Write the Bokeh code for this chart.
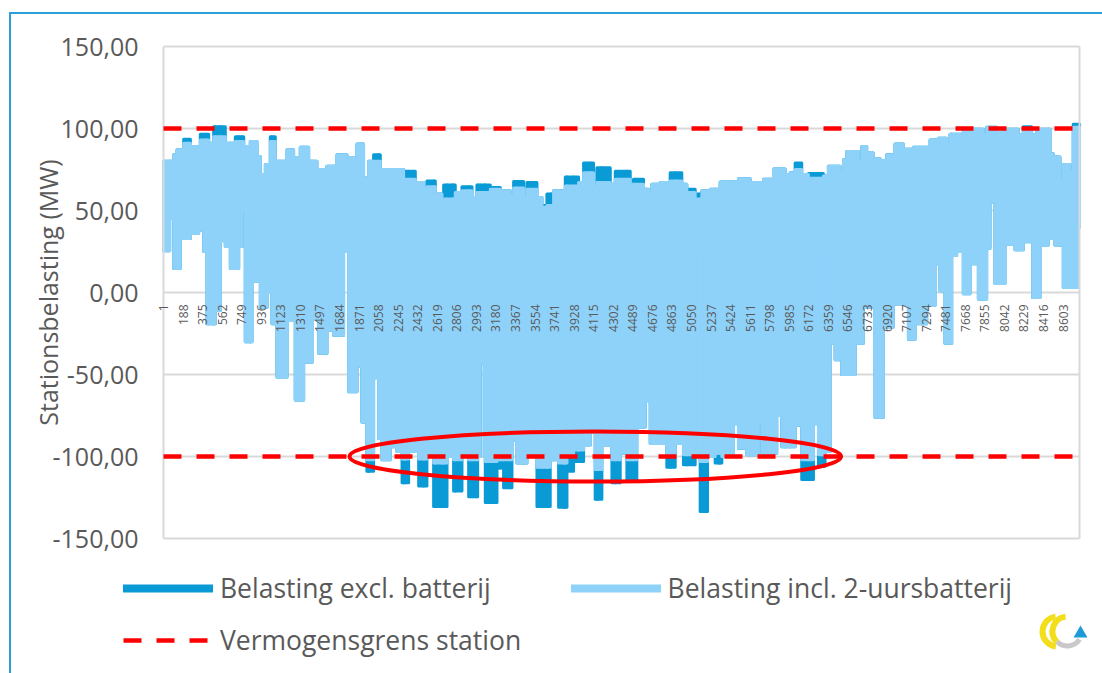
import numpy as np
from bokeh.plotting import figure
from bokeh.models import Range1d, Legend, LegendItem
from bokeh.core.properties import value
from bokeh.embed import file_html
from bokeh.resources import INLINE

FONT = "Open Sans"
GREY = "#595959"
DARK = "#0A9BD6"
LIGHT = "#8ED2FA"
GRID = "#d9d9d9"

# ---------------- data ----------------
n_hours = 8760
hour_ticks = [1, 188, 375, 562, 749, 936, 1123, 1310, 1497, 1684, 1871, 2058, 2245,
              2432, 2619, 2806, 2993, 3180, 3367, 3554, 3741, 3928, 4115, 4302, 4489,
              4676, 4863, 5050, 5237, 5424, 5611, 5798, 5985, 6172, 6359, 6546, 6733,
              6920, 7107, 7294, 7481, 7668, 7855, 8042, 8229, 8416, 8603]
y_ticks = [-150, -100, -50, 0, 50, 100, 150]
y_tick_labels = ["-150,00", "-100,00", "-50,00", "0,00", "50,00", "100,00", "150,00"]

# upper envelope (start hour of each plateau, MW)
top_start = [1, 98, 130, 194, 258, 353, 433, 481, 592, 688, 768, 831, 895, 927, 975,
             1022, 1070, 1182, 1245, 1309, 1389, 1468, 1564, 1660, 1755, 1851, 1914,
             1962, 2010, 2074, 2169, 2297, 2313, 2409, 2489, 2520, 2600, 2664, 2680,
             2791, 2855, 2951, 2998, 3126, 3221, 3317, 3349, 3444, 3476, 3572, 3620,
             3667, 3731, 3827, 3843, 3970, 4018, 4113, 4145, 4273, 4321, 4464, 4495,
             4591, 4639, 4671, 4750, 4846, 4957, 5005, 5085, 5149, 5228, 5308, 5324,
             5499, 5611, 5738, 5834, 5945, 5993, 6041, 6104, 6168, 6311, 6359, 6471,
             6503, 6535, 6646, 6678, 6725, 6789, 6853, 6916, 6980, 6996, 7076, 7155,
             7171, 7331, 7410, 7490, 7522, 7649, 7840, 7872, 7968, 8032, 8175, 8223,
             8302, 8350, 8478, 8509, 8573, 8605, 8669, 8700]
top_incl = [80, 84, 87, 91, 89, 93, 91, 95, 91, 92, 89, 92, 83, 72, 78,
            92, 80, 87, 82, 88.5, 80, 75, 77, 84, 82, 90.5, 70,
            80, 80, 75, 75, 68, 69, 67, 63, 64.5, 60, 48, 57,
            61, 62, 58, 61, 63, 62, 59, 63.7, 57.5, 63, 58, 52,
            53, 62, 48, 65, 67, 73, 64, 67, 66, 69, 66, 66,
            63, 60, 66, 67, 68, 66, 61, 57, 62, 63, 59, 67.4,
            69.4, 67, 69, 75.3, 72, 73, 75, 72, 69.6, 71, 77, 74,
            81, 86, 80, 89, 85, 81.6, 80.5, 84, 70, 90.5, 87.4, 84,
            88.5, 93, 94, 91, 96.5, 99.5, 96.5, 100.7, 97.6, 99.5, 96, 100,
            96, 99.5, 84.6, 82.6, 68.5, 78, 74, 100.7]
top_excl = [80, 84, 87, 93.5, 89, 96.5, 91, 101, 91, 95, 89, 92, 83, 72, 78,
            95, 80, 87, 82, 88.5, 80, 75, 77, 84, 82, 90.5, 70,
            80, 84, 75, 75, 68, 74, 67, 63, 68, 60, 48, 65.5,
            61, 64.5, 58, 65.5, 64, 62, 59, 67.7, 57.5, 67, 58, 53,
            60, 62, 48, 70.4, 67, 79, 64, 76, 66, 74, 66, 69,
            63, 60, 66, 67, 73, 66, 63, 60, 62, 63, 59, 67.4,
            69.4, 67, 69, 75.3, 72, 73, 79, 72, 72.6, 71, 77, 74,
            81, 86, 80, 89, 85, 81.6, 80.5, 84, 70, 90.5, 87.4, 84,
            88.5, 93, 94, 91, 96.5, 99.5, 96.5, 100.7, 97.6, 99.5, 96, 101,
            96, 99.5, 84.6, 82.6, 68.5, 78, 74, 102.6]

# lower envelope (start hour of each plateau, MW)
bot_start = [1, 60, 98, 162, 258, 337, 385, 417, 497, 545, 592, 640, 720, 752, 783,
             847, 927, 991, 1038, 1086, 1182, 1261, 1341, 1421, 1484, 1564, 1628,
             1723, 1771, 1851, 1898, 1946, 2010, 2058, 2090, 2169, 2218, 2234, 2282,
             2345, 2441, 2520, 2584, 2712, 2763, 2775, 2855, 2919, 3005, 3030, 3068,
             3078, 3190, 3253, 3333, 3381, 3476, 3572, 3699, 3715, 3779, 3859, 3922,
             4018, 4082, 4129, 4193, 4289, 4368, 4432, 4527, 4607, 4655, 4814, 4894,
             4973, 5085, 5133, 5203, 5276, 5340, 5451, 5499, 5579, 5690, 5722, 5865,
             5913, 6041, 6104, 6216, 6264, 6327, 6375, 6423, 6487, 6614, 6693, 6709,
             6805, 6885, 6980, 7124, 7187, 7299, 7378, 7426, 7474, 7538, 7585, 7649,
             7713, 7793, 7872, 7904, 7952, 8047, 8143, 8223, 8312, 8382, 8462, 8525,
             8605, 8748]
bot_incl = [25.5, 45.5, 14.6, 33, 36, 38, 25, -19, -11, 31.5, 28, 14.6, 28, 50, -30,
            7, -9, 0, -19, -51.5, -17, -65.5, -42.5, -16, -37, -23, -26,
            25, -60.5, -45, -79, -102, -52, -89, -102, -94, -33, -97, -101.5,
            -97, -101.5, -99, -104, -100, -83, -102, -100, -102, -100, -43, -100,
            -103, -102, -102, -90, -104, -98, -106.6, -77, -102, -104, -100, -96,
            -93, -85, -108, -93, -102, -98, -102, -82, -66, -92, -100, -92,
            -99, -100, -103, -100, -98, -100, -80, -95, -99, -80, -98, -75,
            -94, -81, -102, -80, -99, -97, -31, -41, -50, -31, 27, -9,
            -76, -21, -7, -28.5, -19, -8, 17.6, 1, -31, 22.5, 25, -0.7,
            17.6, -4, 27, 55, 5.5, 29.6, 26, 31, -3, 29, 33, 29,
            3, 40]
bot_excl = [25.5, 45.5, 14.6, 33, 36, 38, 25, -19, -11, 31.5, 28, 14.6, 28, 50, -30,
            7, -9, 0, -19, -51.5, -17, -65.5, -42.5, -16, -37, -23, -26,
            25, -60.5, -45, -79, -109, -52, -89, -102, -94, -33, -97, -116,
            -97, -118, -99, -130.5, -100, -83, -121, -100, -124.5, -100, -43, -100,
            -128, -107, -119, -90, -104, -98, -130.5, -77, -102, -131, -109, -103,
            -93, -85, -126, -93, -116, -98, -114, -82, -66, -92, -106.5, -92,
            -105, -100, -133.6, -100, -104, -100, -80, -95, -99, -80, -98, -75,
            -94, -81, -114, -80, -106, -97, -31, -41, -50, -31, 27, -9,
            -76, -21, -7, -28.5, -19, -8, 17.6, 1, -31, 22.5, 25, -0.7,
            17.6, -4, 27, 55, 5.5, 29.6, 26, 31, -3, 29, 33, 29,
            3, 40]

limit_values = [100, -100]          # station capacity limit (MW)
highlight_hours = [4130]            # centre of highlighted period
highlight_mw = [-100]
highlight_width_hours = [4700]
highlight_height_mw = [30.5]

# ---------------- layout (pixels) ----------------
W, H = 1100, 672
PLOT_L, PLOT_R, PLOT_T, PLOT_B = 163, 1079, 46, 538
Y_MIN, Y_MAX = -150, 150
px_per_h = (PLOT_R - PLOT_L) / (n_hours - 1)
px_per_mw = (PLOT_B - PLOT_T) / (Y_MAX - Y_MIN)
x_range = Range1d(1 - PLOT_L / px_per_h, n_hours + (W - PLOT_R) / px_per_h)
y_range = Range1d(Y_MIN - (H - PLOT_B) / px_per_mw, Y_MAX + PLOT_T / px_per_mw)


def px_x(px):
    return 1 + (px - PLOT_L) / px_per_h


def px_y(py):
    return Y_MAX - (py - PLOT_T) / px_per_mw


# ---------------- build plateaus ----------------
edges = np.unique(np.concatenate([top_start, bot_start, [n_hours]]))
left = edges[:-1]
right = edges[1:]
ti = np.searchsorted(top_start, left, side="right") - 1
bi = np.searchsorted(bot_start, left, side="right") - 1
t_in = np.array(top_incl)[ti]
t_ex = np.array(top_excl)[ti]
b_in = np.array(bot_incl)[bi]
b_ex = np.array(bot_excl)[bi]

# ---------------- figure ----------------
p = figure(width=W, height=H, x_range=x_range, y_range=y_range,
           output_backend="svg", toolbar_location=None,
           min_border=0, min_border_left=0, min_border_right=0,
           min_border_top=0, min_border_bottom=0)
p.axis.visible = False
p.grid.visible = False
p.outline_line_color = None
p.background_fill_color = "white"
p.border_fill_color = "white"

# gridlines (value axis)
p.segment(x0=[1] * len(y_ticks), x1=[n_hours] * len(y_ticks), y0=y_ticks, y1=y_ticks,
          line_color=GRID, line_width=2)

# series
r_ex = p.quad(left=left, right=right, top=t_ex, bottom=b_ex, fill_color=DARK,
              line_color=DARK, line_width=3, line_join="round")
r_in = p.quad(left=left, right=right, top=t_in, bottom=b_in, fill_color=LIGHT,
              line_color=LIGHT, line_width=3, line_join="round")

# plot-area side borders
p.segment(x0=[1, n_hours], x1=[1, n_hours], y0=[Y_MIN, Y_MIN], y1=[Y_MAX, Y_MAX],
          line_color=GRID, line_width=2)

# limits and highlight
r_lim = p.segment(x0=[1] * len(limit_values), x1=[n_hours] * len(limit_values),
                  y0=limit_values, y1=limit_values, line_color="#FF0000",
                  line_width=4.5, line_dash="18 15")
p.ellipse(x=highlight_hours, y=highlight_mw, width=highlight_width_hours,
          height=highlight_height_mw, fill_color=None, line_color="#FF0000", line_width=4)

# category labels along y = 0
p.text(x=hour_ticks, y=[0] * len(hour_ticks), text=[str(h) for h in hour_ticks],
       angle=np.pi / 2, text_align="right", text_baseline="middle", y_offset=12,
       text_font=value(FONT), text_font_size="12px", text_color=GREY)

# value labels
p.text(x=[1] * len(y_ticks), y=y_ticks, text=y_tick_labels, x_offset=-25,
       text_align="right", text_baseline="middle",
       text_font=value(FONT), text_font_size="25px", text_color=GREY)

# axis title
p.text(x=[1], y=[(Y_MIN + Y_MAX) / 2], text=["Stationsbelasting (MW)"], x_offset=-(PLOT_L - 47),
       angle=np.pi / 2, text_align="center", text_baseline="middle",
       text_font=value(FONT), text_font_size="25px", text_color=GREY)

# logo (decorative)
ly = px_y(631)
p.annular_wedge(x=[px_x(1057)], y=[ly], inner_radius=12, outer_radius=18,
                inner_radius_units="screen", outer_radius_units="screen",
                start_angle=1.7, end_angle=4.6, fill_color="#F2DE1B", line_color=None)
p.annular_wedge(x=[px_x(1067)], y=[ly], inner_radius=12, outer_radius=18,
                inner_radius_units="screen", outer_radius_units="screen",
                start_angle=1.7, end_angle=3.9, fill_color="#F2DE1B", line_color=None)
p.annular_wedge(x=[px_x(1067)], y=[ly], inner_radius=12, outer_radius=17,
                inner_radius_units="screen", outer_radius_units="screen",
                start_angle=3.9, end_angle=5.7, fill_color="#C9C9C9", line_color=None)
p.scatter(x=[px_x(1080)], y=[px_y(633)], marker="triangle", size=14,
          fill_color="#1E9BD7", line_color=None)

# legend-only renderers
l_ex = p.line(x=[np.nan], y=[np.nan], line_color=DARK, line_width=8, line_cap="round")
l_in = p.line(x=[np.nan], y=[np.nan], line_color=LIGHT, line_width=8, line_cap="round")


def make_legend(items, loc, spacing=0):
    return Legend(items=items, location=loc, orientation="horizontal", spacing=spacing,
                  padding=0, margin=0, border_line_color=None, background_fill_alpha=0,
                  glyph_width=90, glyph_height=30, label_height=30, label_standoff=7,
                  label_text_font=FONT, label_text_font_size="26.5px", label_text_color=GREY)


leg1 = make_legend([LegendItem(label="Belasting excl. batterij", renderers=[l_ex]),
                    LegendItem(label="Belasting incl. 2-uursbatterij", renderers=[l_in])],
                   (123, H - 606), spacing=80)
leg2 = make_legend([LegendItem(label="Vermogensgrens station", renderers=[r_lim])],
                   (123, H - 658))
p.add_layout(leg1)
p.add_layout(leg2)

html = file_html(p, INLINE)
border_css = ("<style>body::before{content:'';position:fixed;left:9px;top:12px;"
              "width:3000px;height:3000px;border-left:2px solid #2A9FD8;"
              "border-top:2px solid #2A9FD8;pointer-events:none;z-index:10;}</style></head>")
html = html.replace("</head>", border_css, 1)
open("out.html", "w").write(html)
